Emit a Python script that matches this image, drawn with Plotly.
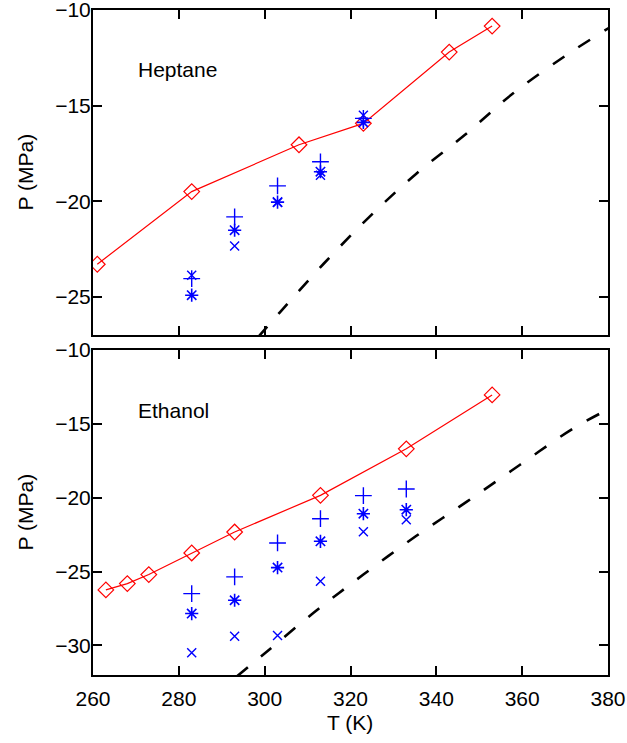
import plotly.graph_objects as go

# ---------------- data ----------------
# Heptane (top panel)
hep_T_exp = [261, 283, 308, 323, 343, 353]
hep_P_exp = [-23.3, -19.5, -17.05, -15.93, -12.2, -10.84]

hep_T_blue = [283, 293, 303, 313, 323]
hep_P_plus = [-24.05, -20.82, -19.2, -17.94, -15.67]
hep_P_star = [-24.92, -21.52, -20.05, -18.46, -15.88]
hep_P_x = [-23.87, -22.34, -20.07, -18.64, -15.5]

hep_T_dash = [298.4, 303.6, 313.8, 324.4, 335.4, 346.6, 357.9, 370.3, 380.5]
hep_P_dash = [-27.13, -25.8, -23.26, -20.82, -18.55, -16.54, -14.36, -12.36, -10.9]

# Ethanol (bottom panel)
eth_T_exp = [263, 268, 273, 283, 293, 313, 333, 353]
eth_P_exp = [-26.24, -25.81, -25.2, -23.74, -22.32, -19.84, -16.69, -13.04]

eth_T_blue = [283, 293, 303, 313, 323, 333]
eth_P_plus = [-26.49, -25.36, -23.06, -21.42, -19.86, -19.41]
eth_P_star = [-27.84, -26.94, -24.73, -22.95, -21.08, -20.81]
eth_P_x = [-30.5, -29.37, -29.32, -25.65, -22.3, -21.49]

eth_T_dash = [293.5, 299.7, 311.4, 323.0, 335.2, 347.2, 359.5, 372.0, 380.5]
eth_P_dash = [-32.1, -30.61, -27.79, -25.2, -22.61, -20.25, -17.77, -15.29, -13.95]

x_ticks = [260, 280, 300, 320, 340, 360, 380]

# ---------------- figure ----------------
FONT = "Liberation Sans, Arial, sans-serif"
FS = 21
RED = "rgb(255,0,0)"
BLUE = "rgb(0,0,255)"

fig = go.Figure()


def add_panel(xa, ya, T_exp, P_exp, T_blue, P_plus, P_star, P_x, T_dash, P_dash):
    fig.add_trace(go.Scatter(
        x=T_dash, y=P_dash, mode="lines", xaxis=xa, yaxis=ya,
        line=dict(color="black", width=2.6, dash="14px,17px", shape="spline"),
        showlegend=False, hoverinfo="skip"))
    fig.add_trace(go.Scatter(
        x=T_exp, y=P_exp, mode="lines+markers", xaxis=xa, yaxis=ya,
        line=dict(color=RED, width=1.2),
        marker=dict(symbol="diamond-open", size=12, color=RED, line=dict(color=RED, width=1.2)),
        showlegend=False))
    fig.add_trace(go.Scatter(
        x=T_blue, y=P_plus, mode="markers", xaxis=xa, yaxis=ya,
        marker=dict(symbol="cross-thin-open", size=12, color=BLUE, line=dict(color=BLUE, width=1.4)),
        showlegend=False))
    fig.add_trace(go.Scatter(
        x=T_blue, y=P_star, mode="markers", xaxis=xa, yaxis=ya,
        marker=dict(symbol="asterisk-open", size=11, color=BLUE, line=dict(color=BLUE, width=1.6)),
        showlegend=False))
    fig.add_trace(go.Scatter(
        x=T_blue, y=P_x, mode="markers", xaxis=xa, yaxis=ya,
        marker=dict(symbol="x-thin-open", size=9, color=BLUE, line=dict(color=BLUE, width=1.4)),
        showlegend=False))


add_panel("x", "y", hep_T_exp, hep_P_exp, hep_T_blue, hep_P_plus, hep_P_star, hep_P_x,
          hep_T_dash, hep_P_dash)
add_panel("x2", "y2", eth_T_exp, eth_P_exp, eth_T_blue, eth_P_plus, eth_P_star, eth_P_x,
          eth_T_dash, eth_P_dash)

axis_common = dict(
    showline=True, linecolor="black", linewidth=2, mirror="ticks",
    ticks="inside", ticklen=9, tickwidth=1.5, tickcolor="black",
    showgrid=False, zeroline=False, automargin=False, ticklabeloverflow="allow",
    tickfont=dict(family=FONT, size=FS, color="black"),
)

TF = dict(family=FONT, size=FS, color="black")

fig.update_layout(
    width=627, height=743,
    margin=dict(l=93, r=19, t=10, b=68),
    paper_bgcolor="white", plot_bgcolor="white",
    font=dict(family=FONT, size=FS, color="black"),
    xaxis=dict(domain=[0, 1], anchor="y", range=[260, 380], tickvals=x_ticks,
               showticklabels=False, **axis_common),
    yaxis=dict(domain=[0.5113, 1.0], anchor="x", range=[-27, -10], dtick=5, tick0=-10,
               ticklabelstandoff=-4, **axis_common),
    xaxis2=dict(domain=[0, 1], anchor="y2", range=[260, 380], tickvals=x_ticks,
                ticklabelstandoff=4, **axis_common),
    yaxis2=dict(domain=[0, 0.4887], anchor="x2", range=[-32, -10], dtick=5, tick0=-10,
                ticklabelstandoff=-4, **axis_common),
    annotations=[
        dict(text="Heptane", x=270.0, y=-13.1, xref="x", yref="y", xanchor="left",
             yanchor="middle", showarrow=False, font=TF),
        dict(text="Ethanol", x=270.0, y=-14.1, xref="x2", yref="y2", xanchor="left",
             yanchor="middle", showarrow=False, font=TF),
        dict(text="P (MPa)", x=-0.132, y=0.7557, xref="paper", yref="paper",
             xanchor="center", yanchor="middle", textangle=-90, showarrow=False, font=TF),
        dict(text="P (MPa)", x=-0.132, y=0.2444, xref="paper", yref="paper",
             xanchor="center", yanchor="middle", textangle=-90, showarrow=False, font=TF),
        dict(text="T (K)", x=0.499, y=-0.072, xref="paper", yref="paper",
             xanchor="center", yanchor="middle", showarrow=False, font=TF),
    ],
)

fig.write_html(
    "out.html",
    config={"displayModeBar": False},
    post_script="document.body.style.margin='0';document.body.style.padding='0';",
)
